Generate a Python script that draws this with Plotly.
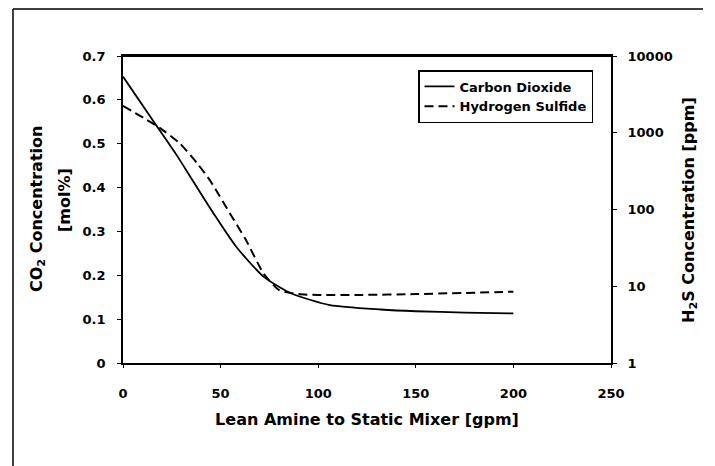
import plotly.graph_objects as go

# Data
co2_x = [0, 15.5, 27.5, 36, 47, 58, 72, 86, 106, 132, 150, 175, 200]
co2_y = [0.653, 0.552, 0.474, 0.414, 0.337, 0.265, 0.197, 0.159, 0.132, 0.122, 0.118, 0.115, 0.113]

h2s_x = [0, 19, 29, 38, 45, 55, 63, 72, 80, 90, 100, 120, 150, 200]
h2s_y = [2240, 1150, 730, 400, 230, 87, 40, 14.7, 8.9, 7.9, 7.7, 7.7, 7.9, 8.5]

x_ticks = [0, 50, 100, 150, 200, 250]
left_ticks = [0, 0.1, 0.2, 0.3, 0.4, 0.5, 0.6, 0.7]
left_labels = ["0", "0.1", "0.2", "0.3", "0.4", "0.5", "0.6", "0.7"]
right_ticks = [1, 10, 100, 1000, 10000]

FONT = "DejaVu Sans"
tick_font = dict(family=FONT, size=13, color="black", weight="bold")
title_font = dict(family=FONT, size=16, color="black", weight="bold")

# plot area in pixels (for paper-coordinate helpers)
PL, PR, PT, PB = 123, 611, 56, 363
PW, PH = PR - PL, PB - PT


def px(x):
    return (x - PL) / PW


def py(y):
    return (PB - y) / PH


fig = go.Figure()
fig.add_trace(go.Scatter(
    x=co2_x, y=co2_y, name="Carbon Dioxide", mode="lines",
    line=dict(color="black", width=1.8, shape="spline", smoothing=0.6),
))
fig.add_trace(go.Scatter(
    x=h2s_x, y=h2s_y, name="Hydrogen Sulfide", mode="lines", yaxis="y2",
    line=dict(color="black", width=2, dash="9px,5px", shape="spline", smoothing=0.6),
))

fig.update_layout(
    width=715, height=466,
    margin=dict(l=PL, r=715 - PR, t=PT, b=466 - PB),
    paper_bgcolor="white", plot_bgcolor="white",
    showlegend=True,
    legend=dict(
        x=px(418), y=py(70), xanchor="left", yanchor="top",
        bgcolor="white", bordercolor="black", borderwidth=1.5,
        font=dict(family=FONT, size=13, color="black", weight="bold"),
        tracegroupgap=0, itemwidth=30,
    ),
    xaxis=dict(
        range=[0, 250], tickvals=x_ticks, ticks="outside", ticklen=3,
        tickcolor="black", showline=True, linecolor="black", linewidth=1.8,
        mirror=True, showgrid=False, zeroline=False, tickfont=tick_font,
        ticklabelstandoff=14,
        title=dict(text="Lean Amine to Static Mixer [gpm]", font=title_font,
                   standoff=14),
    ),
    yaxis=dict(
        range=[0, 0.7], tickvals=left_ticks, ticktext=left_labels,
        ticks="outside", ticklen=4, tickcolor="black",
        showline=True, linecolor="black", linewidth=1.8,
        showgrid=False, zeroline=False, tickfont=tick_font,
        ticklabelstandoff=9,
    ),
    yaxis2=dict(
        type="log", range=[0, 4], overlaying="y", side="right",
        tickvals=right_ticks, ticktext=[str(v) for v in right_ticks],
        ticks="outside", ticklen=4, tickcolor="black",
        showline=True, linecolor="black", linewidth=1.8,
        showgrid=False, zeroline=False, tickfont=tick_font,
        ticklabelstandoff=8,
    ),
    annotations=[
        dict(text="CO<sub>2</sub> Concentration", xref="paper", yref="paper",
             x=px(37), y=py(209), xanchor="center", yanchor="middle", textangle=-90,
             showarrow=False, font=title_font),
        dict(text="[mol%]", xref="paper", yref="paper",
             x=px(64), y=py(200), xanchor="center", yanchor="middle", textangle=-90,
             showarrow=False, font=title_font),
        dict(text="H<sub>2</sub>S Concentration [ppm]", xref="paper", yref="paper",
             x=px(689), y=py(210), xanchor="center", yanchor="middle", textangle=-90,
             showarrow=False, font=title_font),
    ],
    shapes=[
        # plot frame top
        dict(type="line", xref="paper", yref="paper", x0=0, x1=1, y0=1, y1=1,
             line=dict(color="black", width=1.8)),
        # outer page frame (top and left edges)
        dict(type="line", xref="paper", yref="paper",
             x0=px(13), x1=px(703), y0=py(9), y1=py(9),
             line=dict(color="black", width=1.5)),
        dict(type="line", xref="paper", yref="paper",
             x0=px(13), x1=px(13), y0=py(9), y1=py(466),
             line=dict(color="black", width=1.5)),
    ],
)

fig.write_html("out.html")
